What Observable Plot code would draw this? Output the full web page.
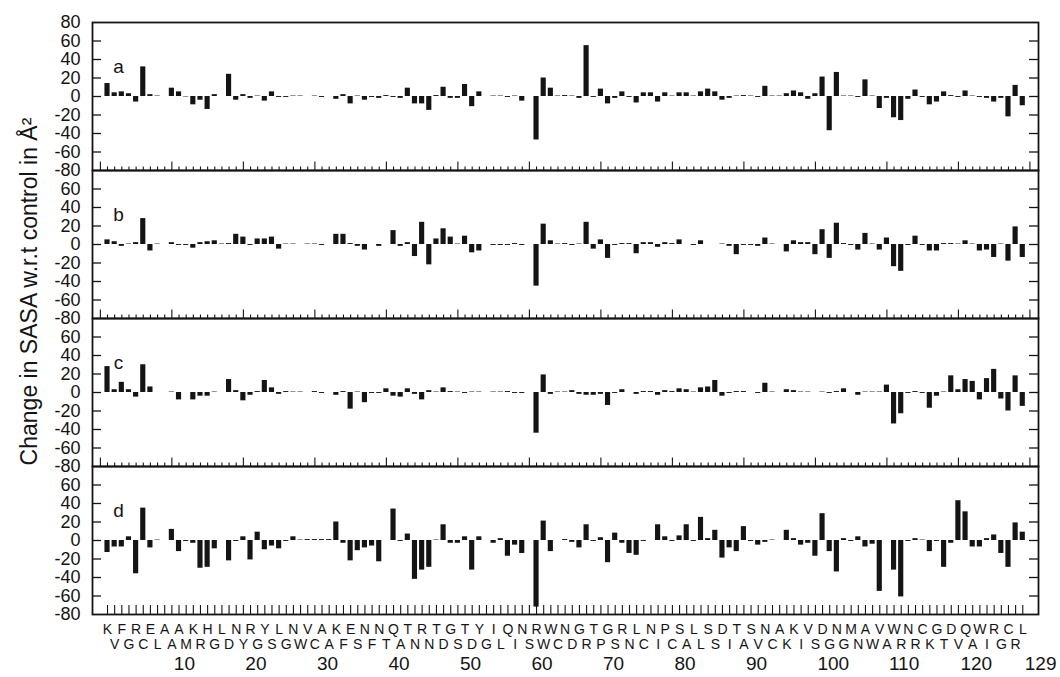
<!DOCTYPE html>
<html><head><meta charset="utf-8">
<script src="https://cdn.jsdelivr.net/npm/d3@7"></script>
<script src="https://cdn.jsdelivr.net/npm/@observablehq/plot@0.6"></script>
<style>
html,body{margin:0;padding:0;background:#fff;}
#chart{width:1060px;height:677px;}
</style></head><body><div id="chart"></div>
<script>
// Lysozyme sequence (residues 1..129)
const sequence = "KVFGRCELAAAMKRHGLDNYRGYSLGNWVCAAKFESNFNTQATNRNTDGSTDYGILQINSRWWCNDGRTPGSRNLCNIPCSALLSSDITASVNCAKKIVSDGNGMNAWVAWRNRCKGTDVQAWIRGCRL".split("");
const panels = ["a", "b", "c", "d"];

const panelA = [14,4,5,3,-6,32,2,0.5,0,9, 5,-0.5,-9,-4,-14,2,0,24,-4,2, -2,0.5,-5,5,-1,-1,0.5,0.5,0,0.5,
  -1,0,-3,2,-8,0.5,-4,-1,-2,1, -1,-2,9,-8,-8,-15,1,10,-2,-2, 13,-11,5,0,0.5,0.5,-1,0.5,-5,0,
  -47,20,9,0.5,1,0.5,-2,55,-1,8, -8,-2,5,-1,-7,4,4,-6,4,0.5, 4,4,0.5,5,8,5,-4,-2,0.5,1,
  0.5,-1,11,0.5,0.5,3,6,4,-3,3, 21,-37,26,0.5,0.5,-1,18,0.5,-13,-2, -23,-26,-3,7,-1,-9,-6,5,1,-1,
  6,0.5,-1,-2,-6,-2,-22,12,-10];
const panelB = [5,3,-2,0.5,2,28,-7,0.5,0,2, -1,-1,-4,2,3,4,0.5,1,11,8, -1,6,6,8,-5,0.5,0.5,0,0.5,0.5,
  -1,0,11,11,1,-2,-6,0,-2,0, 15,-2,2,-13,24,-22,6,17,8,0.5, 9,-9,-7,0,-1,-1,-1,1,-1,0,
  -45,22,4,0.5,1,-1,0.5,24,-5,5, -15,-1,1,1,-10,2,2,-3,2,1, 5,0,-1,4,0,0,0.5,-2,-11,-1,
  -1,-2,7,0.5,0,-8,4,2,2,-11, 16,-15,23,1,-1,-6,12,0.5,-6,7, -24,-29,-1,9,-1,-7,-7,1,1,0.5,
  4,0.5,-7,-6,-14,0.5,-18,19,-14];
const panelC = [28,3,11,3,-5,30,6,0,0,0.5, -8,0,-8,-4,-4,0.5,0,14,2,-9, -3,1,13,5,-2,1,0.5,0.5,0,1,
  -1,0,-3,1,-18,0.5,-11,-1,-1,4, -4,-5,4,-2,-8,2,0.5,5,1,0.5, -1,0.5,0.5,0,0.5,0.5,1,-1,-1,0,
  -44,19,-2,0.5,0.5,2,-2,-3,-3,-2, -14,-1,3,0,-2,1,1,-3,2,1, 4,3,0.5,5,6,13,-4,-1,1,1,
  0,-1,10,0.5,0,3,2,0.5,0.5,0, 0.5,-1,1,4,0,-3,0.5,0.5,0.5,8, -34,-23,-1,1,-1,-17,-4,0.5,18,3,
  14,12,-8,15,25,-7,-20,18,-15];
const panelD = [-13,-7,-7,4,-36,35,-8,0.5,0,12, -12,-1,-3,-30,-29,-9,0,-22,-1,4, -21,9,-10,-6,-9,-1,4,0.5,1,1,
  1,1,20,-3,-22,-11,-8,-6,-23,0, 34,-1,7,-42,-32,-29,0.5,17,-3,-3, 4,-32,4,0,-3,2,-17,-5,-14,0,
  -72,21,-12,0,1,-2,-8,17,-1,3, -24,8,-3,-14,-16,-1,0,17,4,-1, 5,17,-1,25,2,11,-19,-8,-12,15,
  -1,-5,-2,0.5,0,11,2,-5,-3,-17, 29,-12,-34,2,-1,4,-7,-4,-55,0, -32,-61,-1,2,0.5,-12,-1,-29,-3,43,
  31,-7,-7,2,6,-14,-29,19,9];

const yTickValues = [-60, -40, -20, 0, 20, 40, 60];
const yLabelsFirst = [80, 60, 40, 20, 0, -20, -40, -60, -80];
const yLabelsOther = [60, 40, 20, 0, -20, -40, -60, -80];
const numberLabels = [10, 20, 30, 40, 50, 60, 70, 80, 90, 100, 110, 120, 129];
const yTitle = "Change in SASA w.r.t control in Å²";

// ---- derived tables ----
const bars = [];
[panelA, panelB, panelC, panelD].forEach((vals, k) =>
  vals.forEach((v, j) => bars.push({panel: panels[k], residue: j + 1, value: v})));

const residues = sequence.map((s, j) => ({residue: j + 1, letter: s}));
const oddRes = residues.filter(d => d.residue % 2 === 1);
const evenRes = residues.filter(d => d.residue % 2 === 0);

const xTicksABC = [];
panels.slice(0, 3).forEach(p => d3.range(0, 131).forEach(t => xTicksABC.push({panel: p, x: t, major: t % 10 === 0})));
const xTicksD = d3.range(1, 130).map(t => ({panel: "d", x: t}));

const yTicks = [];
panels.forEach(p => yTickValues.forEach(v => yTicks.push({panel: p, v})));
const yLabels = [];
panels.forEach((p, k) => (k === 0 ? yLabelsFirst : yLabelsOther).forEach(v => yLabels.push({panel: p, v})));

const W = 1060, H = 677, mL = 92, mR = 22, mT = 22, mB = 63;
const facetH = (H - mT - mB) / 4;
const innerW = W - mL - mR;
const ink = "#141414";

const chart = Plot.plot({
  width: W, height: H,
  marginLeft: mL, marginRight: mR, marginTop: mT, marginBottom: mB,
  style: {fontFamily: "'Liberation Sans', Arial, Helvetica, sans-serif", background: "#fff", color: ink, overflow: "visible"},
  x: {domain: [-1.1, 131.2], axis: null},
  y: {domain: [-80, 80], axis: null},
  fy: {domain: panels, padding: 0, axis: null},
  marks: [
    Plot.rect(bars, {x1: d => d.residue - 0.36, x2: d => d.residue + 0.36, y1: 0, y2: "value", fy: "panel", fill: ink}),
    // bottom ticks, panels a-c
    Plot.tickX(xTicksABC.filter(d => d.major), {x: "x", fy: "panel", insetTop: facetH - 8.5, stroke: ink, strokeWidth: 1.1}),
    Plot.tickX(xTicksABC.filter(d => !d.major), {x: "x", fy: "panel", insetTop: facetH - 3.5, stroke: ink, strokeWidth: 1.1}),
    // bottom ticks, panel d
    Plot.tickX(xTicksD, {x: "x", fy: "panel", insetTop: facetH - 9, stroke: ink, strokeWidth: 1.1}),
    // left & right inward y ticks
    Plot.tickY(yTicks, {y: "v", fy: "panel", insetRight: innerW - 9, stroke: ink, strokeWidth: 1.3}),
    Plot.tickY(yTicks, {y: "v", fy: "panel", insetLeft: innerW - 9, stroke: ink, strokeWidth: 1.3}),
    Plot.frame({stroke: ink, strokeWidth: 1.8}),
    // y tick labels
    Plot.text(yLabels, {y: "v", fy: "panel", text: d => String(d.v), frameAnchor: "left", textAnchor: "end", dx: -12, fontSize: 18, fill: ink}),
    // panel letters
    Plot.text(panels, {fy: d => d, text: d => d, frameAnchor: "top-left", textAnchor: "middle", dx: 26, dy: 37, fontSize: 19, fill: ink}),
    // residue letters
    Plot.text(oddRes, {x: "residue", fy: () => "d", text: "letter", frameAnchor: "bottom", dy: 19, fontSize: 14, fill: ink}),
    Plot.text(evenRes, {x: "residue", fy: () => "d", text: "letter", frameAnchor: "bottom", dy: 34, fontSize: 14, fill: ink}),
    // residue numbers
    Plot.text(numberLabels, {x: d => d, fy: () => "d", text: d => String(d), frameAnchor: "bottom", dy: 55, dx: 2, textAnchor: "start", fontSize: 19, fill: ink}),
    // y title
    Plot.text([yTitle], {fy: () => "b", text: d => d, frameAnchor: "left", textAnchor: "middle", rotate: -90, dx: -63, dy: 47, fontSize: 23, fill: ink})
  ]
});
document.getElementById("chart").appendChild(chart);
</script>
</body></html>
